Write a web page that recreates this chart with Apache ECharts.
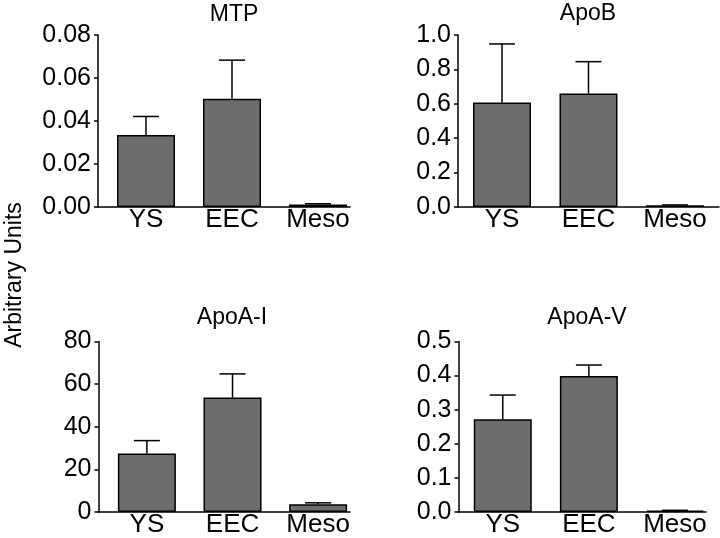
<!DOCTYPE html>
<html>
<head>
<meta charset="utf-8">
<script src="https://cdn.jsdelivr.net/npm/echarts@6/dist/echarts.min.js"></script>
<style>html,body{margin:0;padding:0;background:#fff}#c{width:720px;height:538px}</style>
</head>
<body>
<div id="c"></div>
<script>
const categories = ['YS', 'EEC', 'Meso'];
const titles = ['MTP', 'ApoB', 'ApoA-I', 'ApoA-V'];
const yLabel = 'Arbitrary Units';

const mtpMean = [0.0335, 0.0504, 0.0012];
const mtpUpper = [0.0421, 0.0683, 0.0015];
const apoBMean = [0.608, 0.660, 0.010];
const apoBUpper = [0.948, 0.845, 0.012];
const apoA1Mean = [27.4, 53.7, 3.6];
const apoA1Upper = [33.5, 64.8, 4.3];
const apoA5Mean = [0.272, 0.399, 0.004];
const apoA5Upper = [0.343, 0.431, 0.005];

const yMax = [0.08, 1.0, 80, 0.5];
const yInterval = [0.02, 0.2, 20, 0.1];
const yDecimals = [2, 1, 0, 1];

const means = [mtpMean, apoBMean, apoA1Mean, apoA5Mean];
const uppers = [mtpUpper, apoBUpper, apoA1Upper, apoA5Upper];

const FONT = 'Liberation Sans, Arial, sans-serif';
const grids = [
  {left: 98, top: 35, width: 252, height: 172},
  {left: 458, top: 35, width: 261, height: 172},
  {left: 98.5, top: 341.5, width: 251.5, height: 171.5},
  {left: 458.5, top: 341.5, width: 247.5, height: 171.5}
];
const xRanges = [[-0.558, 2.372], [-0.509, 2.509], [-0.565, 2.372], [-0.514, 2.36]];
const titlePos = [[234, 3], [588, 2], [232, 306], [587, 306]];

const option = {
  backgroundColor: '#fff',
  animation: false,
  title: titles.map((t, i) => ({
    text: t, left: titlePos[i][0], top: titlePos[i][1], textAlign: 'center', padding: 0,
    textStyle: {fontFamily: FONT, fontSize: 23, fontWeight: 'normal', color: '#000'}
  })),
  grid: grids,
  xAxis: grids.map((g, i) => ({
    type: 'value', gridIndex: i, min: xRanges[i][0], max: xRanges[i][1],
    axisLine: {show: true, onZero: false, lineStyle: {color: '#000', width: 1.5}},
    axisTick: {show: false},
    splitLine: {show: false},
    axisLabel: {
      customValues: [0, 1, 2], formatter: v => categories[Math.round(v)] || '',
      fontFamily: FONT, fontSize: 26, color: '#000', margin: 0
    }
  })),
  yAxis: grids.map((g, i) => ({
    type: 'value', gridIndex: i, min: 0, max: yMax[i], interval: yInterval[i],
    axisLine: {show: true, onZero: false, lineStyle: {color: '#000', width: 1.5}},
    axisTick: {show: true, length: 4, lineStyle: {color: '#000', width: 1.5}},
    splitLine: {show: false},
    axisLabel: {
      formatter: v => v.toFixed(yDecimals[i]),
      fontFamily: FONT, fontSize: 25, color: '#000', margin: 7
    }
  })),
  graphic: [{
    type: 'text', x: 15, y: 275, rotation: Math.PI / 2,
    style: {text: yLabel, fontFamily: FONT, fontSize: 23, fill: '#000', textAlign: 'center', textVerticalAlign: 'middle'}
  }],
  series: []
};

means.forEach((m, i) => {
  option.series.push({
    type: 'bar', xAxisIndex: i, yAxisIndex: i, barWidth: 58,
    data: m.map((v, k) => [k, v]),
    itemStyle: {color: '#6d6d6d', borderColor: '#000', borderWidth: 1.5}
  });
  option.series.push({
    type: 'custom', xAxisIndex: i, yAxisIndex: i, z: 1,
    data: m.map((v, k) => [k, v, uppers[i][k]]),
    renderItem: (params, api) => {
      const x = api.value(0);
      const base = api.coord([x, api.value(1)]);
      const top = api.coord([x, api.value(2)]);
      const hw = 13;
      return {
        type: 'group',
        children: [
          {type: 'line', shape: {x1: base[0], y1: base[1], x2: top[0], y2: top[1]}, style: {stroke: '#000', lineWidth: 1.5}},
          {type: 'line', shape: {x1: top[0] - hw, y1: top[1], x2: top[0] + hw, y2: top[1]}, style: {stroke: '#000', lineWidth: 1.5}}
        ]
      };
    }
  });
});

echarts.init(document.getElementById('c')).setOption(option);
</script>
</body>
</html>
